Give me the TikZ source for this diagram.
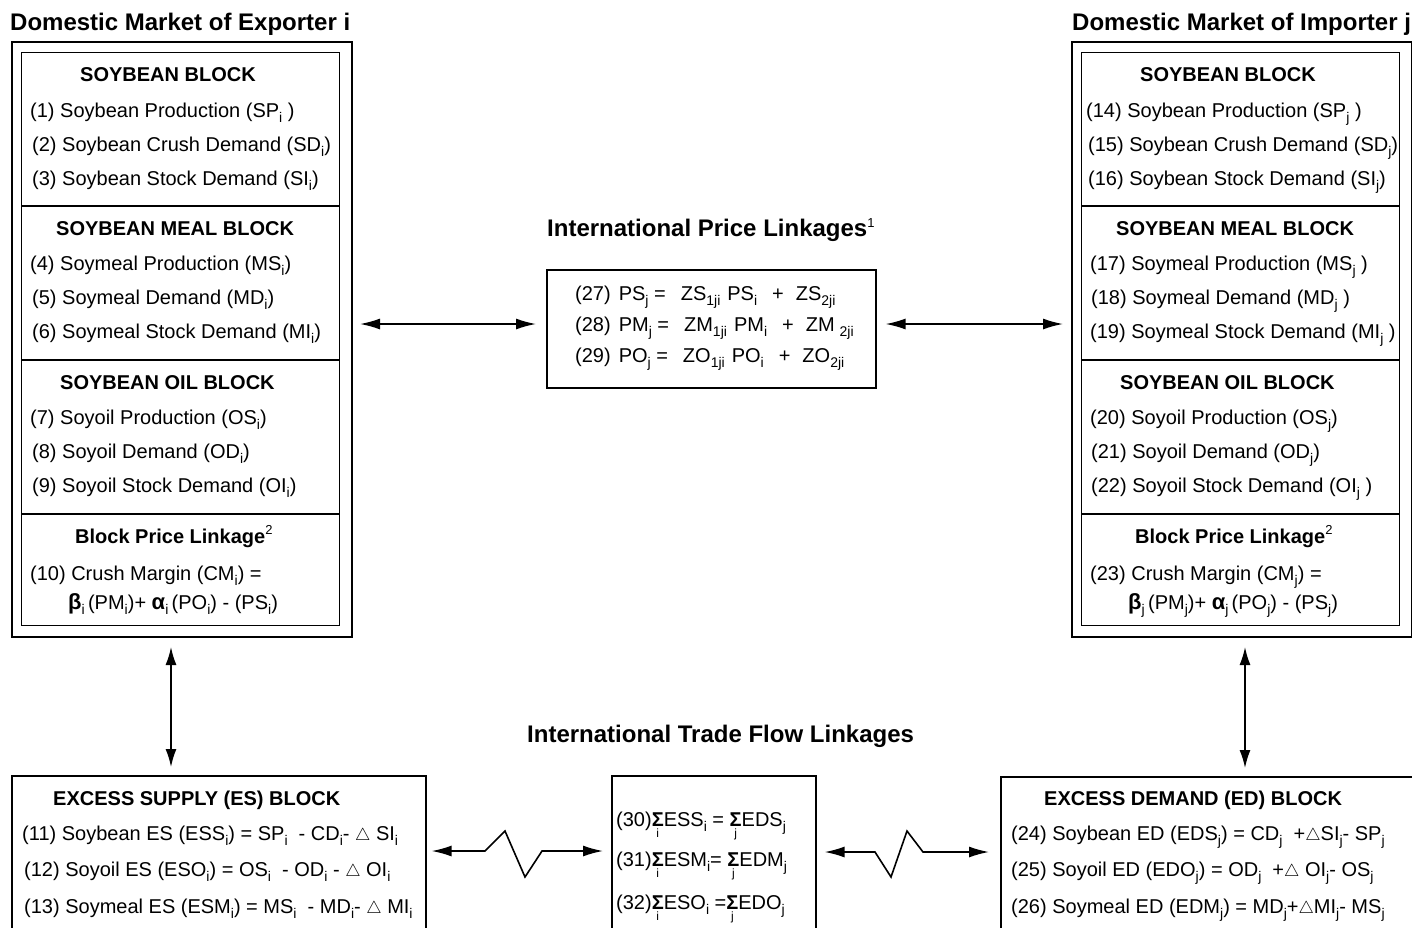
\documentclass[tikz,border=0pt]{standalone}
\usepackage{fontspec}
\setmainfont{Liberation Sans}
\usetikzlibrary{arrows.meta,calc}
\newcommand\bodyf{\fontsize{20}{24}\selectfont}
\newcommand\subx[1]{\raisebox{-5.5pt}{\fontsize{14}{14}\selectfont #1}}
\newcommand\supx[1]{\raisebox{9pt}{\fontsize{13}{13}\selectfont\mdseries #1}}
\newcommand\dlt{{\fontsize{18}{18}\selectfont$\triangle$}}
\newcommand\gk[1]{{\fontsize{22}{22}\selectfont\bfseries #1}}
\newcommand\Sig[1]{\ooalign{\textbf{Σ}\cr\hidewidth\raisebox{-11pt}{\fontsize{12}{12}\selectfont #1}\hidewidth\cr}}
\begin{document}
\begin{tikzpicture}[x=1pt,y=-1pt,
 txt/.style={anchor=base west, inner sep=0pt, font=\bodyf},
 hdr/.style={anchor=base west, inner sep=0pt, font=\bodyf\bfseries},
 ttl/.style={anchor=base west, inner sep=0pt, font=\fontsize{24}{28}\selectfont\bfseries},
 outerbox/.style={draw, line width=2pt, inner sep=0pt, anchor=north west},
 innerbox/.style={draw, line width=1.2pt, inner sep=0pt, anchor=north west},
 eqbox/.style={draw, line width=1.6pt, inner sep=0pt, anchor=north west},
 divider/.style={line width=1.2pt},
 biarrow/.style={line width=1.6pt, {Latex[length=20pt,width=11pt]}-{Latex[length=20pt,width=11pt]}},
 varrow/.style={line width=1.6pt, {Latex[length=18pt,width=11pt]}-{Latex[length=18pt,width=11pt]}}]
\useasboundingbox (0,0) rectangle (1412,927);

% ---------- titles ----------
\node[ttl] (tL) at (10,30) {Domestic Market of Exporter i};
\node[ttl] (tR) at (1072,30) {Domestic Market of Importer j};
\node[ttl] (tP) at (547,236) {International Price Linkages\supx{1}};
\node[ttl] (tT) at (527,742) {International Trade Flow Linkages};

% ---------- left domestic market ----------
\node[outerbox, minimum width=340pt, minimum height=595pt] (LO) at (11,41) {};
\node[innerbox, minimum width=318pt, minimum height=573pt] (LI) at (21,52) {};
\draw[divider] (LI.west |- 0,206) -- (LI.east |- 0,206);
\draw[divider] (LI.west |- 0,360) -- (LI.east |- 0,360);
\draw[divider] (LI.west |- 0,514) -- (LI.east |- 0,514);

\node[hdr] (lh1) at (80,81) {SOYBEAN BLOCK};
\node[txt] (l1) at (30,117) {(1) Soybean Production (SP\subx{i} )};
\node[txt] (l2) at (32,151) {(2) Soybean Crush Demand (SD\subx{i})};
\node[txt] (l3) at (32,185) {(3) Soybean Stock Demand (SI\subx{i})};
\node[hdr] (lh2) at (56,235) {SOYBEAN MEAL BLOCK};
\node[txt] (l4) at (30,270) {(4) Soymeal Production (MS\subx{i})};
\node[txt] (l5) at (32,304) {(5) Soymeal Demand (MD\subx{i})};
\node[txt] (l6) at (32,338) {(6) Soymeal Stock Demand (MI\subx{i})};
\node[hdr] (lh3) at (60,389) {SOYBEAN OIL BLOCK};
\node[txt] (l7) at (30,424) {(7) Soyoil Production (OS\subx{i})};
\node[txt] (l8) at (32,458) {(8) Soyoil Demand (OD\subx{i})};
\node[txt] (l9) at (32,492) {(9) Soyoil Stock Demand (OI\subx{i})};
\node[hdr] (lh4) at (75,543) {Block Price Linkage\supx{2}};
\node[txt] (l10) at (30,580) {(10) Crush Margin (CM\subx{i}) =};
\node[txt] (l10b) at (68,609) {\gk{β}\subx{i}\,(PM\subx{i})+ \gk{α}\subx{i}\,(PO\subx{i}) - (PS\subx{i})};

% ---------- right domestic market ----------
\node[outerbox, minimum width=340pt, minimum height=595pt] (RO) at (1071,41) {};
\node[innerbox, minimum width=318pt, minimum height=573pt] (RI) at (1081,52) {};
\draw[divider] (RI.west |- 0,206) -- (RI.east |- 0,206);
\draw[divider] (RI.west |- 0,360) -- (RI.east |- 0,360);
\draw[divider] (RI.west |- 0,514) -- (RI.east |- 0,514);

\node[hdr] (rh1) at (1140,81) {SOYBEAN BLOCK};
\node[txt] (r14) at (1086,117) {(14) Soybean Production (SP\subx{j} )};
\node[txt] (r15) at (1088,151) {(15) Soybean Crush Demand (SD\subx{j})};
\node[txt] (r16) at (1088,185) {(16) Soybean Stock Demand (SI\subx{j})};
\node[hdr] (rh2) at (1116,235) {SOYBEAN MEAL BLOCK};
\node[txt] (r17) at (1090,270) {(17) Soymeal Production (MS\subx{j} )};
\node[txt] (r18) at (1091,304) {(18) Soymeal Demand (MD\subx{j} )};
\node[txt] (r19) at (1090,338) {(19) Soymeal Stock Demand (MI\subx{j} )};
\node[hdr] (rh3) at (1120,389) {SOYBEAN OIL BLOCK};
\node[txt] (r20) at (1090,424) {(20) Soyoil Production (OS\subx{j})};
\node[txt] (r21) at (1091,458) {(21) Soyoil Demand (OD\subx{j})};
\node[txt] (r22) at (1091,492) {(22) Soyoil Stock Demand (OI\subx{j} )};
\node[hdr] (rh4) at (1135,543) {Block Price Linkage\supx{2}};
\node[txt] (r23) at (1090,580) {(23) Crush Margin (CM\subx{j}) =};
\node[txt] (r23b) at (1128,609) {\gk{β}\subx{j}\,(PM\subx{j})+ \gk{α}\subx{j}\,(PO\subx{j}) - (PS\subx{j})};

% ---------- international price linkages ----------
\node[eqbox, minimum width=329pt, minimum height=118pt] (PB) at (546,269) {};
\node[txt] (p27) at (575,300) {(27)\hspace{8pt}PS\subx{j} =\hspace{15pt}ZS\subx{1ji}\hspace{7pt}PS\subx{i}\hspace{15pt}+\hspace{12pt}ZS\subx{2ji}};
\node[txt] (p28) at (575,331) {(28)\hspace{8pt}PM\subx{j} =\hspace{15pt}ZM\subx{1ji}\hspace{7pt}PM\subx{i}\hspace{15pt}+\hspace{12pt}ZM\hspace{5pt}\subx{2ji}};
\node[txt] (p29) at (575,362) {(29)\hspace{8pt}PO\subx{j} =\hspace{15pt}ZO\subx{1ji}\hspace{7pt}PO\subx{i}\hspace{15pt}+\hspace{12pt}ZO\subx{2ji}};

% ---------- bottom row ----------
\node[outerbox, line width=1.6pt, minimum width=414pt, minimum height=180pt] (BL) at (11,775) {};
\node[hdr] (bh1) at (53,805) {EXCESS SUPPLY (ES) BLOCK};
\node[txt] (b11) at (22,840) {(11) Soybean ES (ESS\subx{i}) = SP\subx{i} \ - CD\subx{i}- \dlt\ SI\subx{i}};
\node[txt] (b12) at (24,876) {(12) Soyoil ES (ESO\subx{i}) = OS\subx{i} \ - OD\subx{i} - \dlt\ OI\subx{i}};
\node[txt] (b13) at (24,913) {(13) Soymeal ES (ESM\subx{i}) = MS\subx{i} \ - MD\subx{i}- \dlt\ MI\subx{i}};

\node[eqbox, minimum width=204pt, minimum height=180pt] (BC) at (611,775) {};
\node[txt] (c30) at (616,826) {(30)\Sig{i}ESS\subx{i} = \Sig{j}EDS\subx{j}};
\node[txt] (c31) at (616,866) {(31)\Sig{i}ESM\subx{i}= \Sig{j}EDM\subx{j}};
\node[txt] (c32) at (616,909) {(32)\Sig{i}ESO\subx{i} =\Sig{j}EDO\subx{j}};

\node[outerbox, line width=1.6pt, minimum width=430pt, minimum height=180pt] (BR) at (1000,776) {};
\node[hdr] (bh2) at (1044,805) {EXCESS DEMAND (ED) BLOCK};
\node[txt] (b24) at (1011,840) {(24) Soybean ED (EDS\subx{j}) = CD\subx{j} \ +\dlt SI\subx{j}- SP\subx{j}};
\node[txt] (b25) at (1011,876) {(25) Soyoil ED (EDO\subx{j}) = OD\subx{j} \ +\dlt\ OI\subx{j}- OS\subx{j}};
\node[txt] (b26) at (1011,913) {(26) Soymeal ED (EDM\subx{j}) = MD\subx{j}+\dlt MI\subx{j}- MS\subx{j}};

% ---------- connectors ----------
\draw[biarrow] ($(LO.east |- 0,324)+(7,0)$) -- ($(PB.west |- 0,324)+(-10,0)$);
\draw[biarrow] ($(PB.east |- 0,324)+(9,0)$) -- ($(RO.west |- 0,324)+(-8,0)$);
\draw[varrow] ($(LO.south -| 171,0)+(0,9)$) -- ($(BL.north -| 171,0)+(0,-8)$);
\draw[varrow] ($(RO.south -| 1245,0)+(0,9)$) -- ($(BR.north -| 1245,0)+(0,-8)$);
\draw[biarrow] ($(BL.east |- 0,851)+(5,0)$) -- (485,851) -- (505,831) -- (525,877) -- (542,851) -- ($(BC.west |- 0,851)+(-8,0)$);
\draw[biarrow] ($(BC.east |- 0,852)+(8,0)$) -- (875,852) -- (891,877) -- (907,831) -- (923,852) -- ($(BR.west |- 0,852)+(-11,0)$);
\end{tikzpicture}
\end{document}
